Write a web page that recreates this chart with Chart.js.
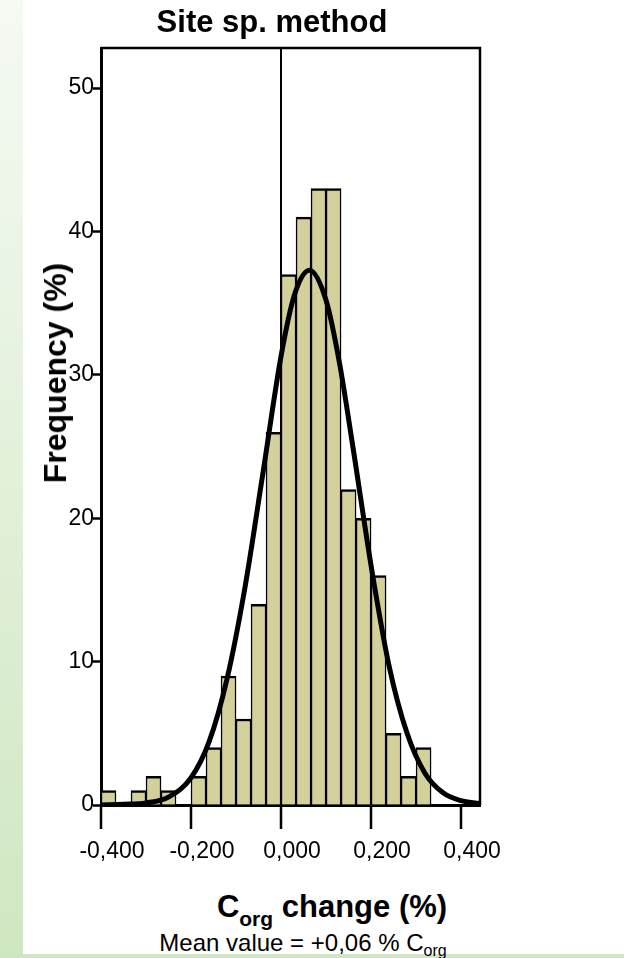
<!DOCTYPE html>
<html>
<head>
<meta charset="utf-8">
<script src="https://cdn.jsdelivr.net/npm/chart.js@4.4.1/dist/chart.umd.min.js"></script>
<style>
  html, body { margin: 0; padding: 0; }
  body {
    width: 624px; height: 958px; position: relative; overflow: hidden;
    background: #ffffff; font-family: "Liberation Sans", Arial, sans-serif; color: #000;
  }
  .strip-left {
    position: absolute; left: 0; top: 0; width: 23px; height: 958px;
    background: linear-gradient(to bottom, #f5faf3, #cfe7c1);
  }
  .strip-bottom {
    position: absolute; left: 0; top: 954px; width: 624px; height: 4px; background: #cfe7c1;
  }
  #wrap { position: absolute; left: 0; top: 0; width: 624px; height: 880px; }
  .txt { position: absolute; white-space: nowrap; line-height: 1; }
  #title { font-weight: bold; font-size: 31px; left: 272px; top: 6px; transform: translateX(-50%); }
  #ytitle { font-weight: bold; font-size: 32px; left: 55px; top: 373px; transform: translate(-50%, -50%) rotate(-90deg); }
  #xtitle { font-weight: bold; font-size: 31px; left: 332px; top: 891px; transform: translateX(-50%); }
  #xtitle sub { font-size: 21px; vertical-align: -9px; }
  #mean { font-size: 24px; left: 303px; top: 931px; transform: translateX(-50%); }
  #mean sub { font-size: 16px; vertical-align: -5px; }
</style>
</head>
<body>
<div class="strip-left"></div>
<div class="strip-bottom"></div>
<div id="wrap"><canvas id="histChart"></canvas></div>
<div class="txt" id="title">Site sp. method</div>
<div class="txt" id="ytitle">Frequency (%)</div>
<div class="txt" id="xtitle">C<sub>org</sub> change (%)</div>
<div class="txt" id="mean">Mean value = +0,06 % C<sub>org</sub></div>

<script>
// ---------------------------------------------------------
// Data
// ---------------------------------------------------------
const binStart = -0.4;
const binWidth = 0.4 / 12;
const binCounts = [1, 0, 1, 2, 1, 0, 2, 4, 9, 6, 14, 26, 37, 41, 43, 43, 22, 20, 16, 5, 2, 4];

// fitted normal curve
const curveX = [-0.40, -0.35, -0.30, -0.25, -0.20, -0.16, -0.12, -0.08, -0.04, 0.00, 0.03, 0.063,
                0.10, 0.13, 0.16, 0.20, 0.24, 0.28, 0.32, 0.36, 0.40, 0.44];
const curveY = [0.0, 0.05, 0.15, 0.55, 1.9, 4.4, 8.8, 15.2, 23.2, 31.3, 35.6, 37.3,
                35.2, 30.8, 24.9, 16.7, 9.7, 5.0, 2.2, 0.85, 0.3, 0.1];

const xTicks = [-0.4, -0.2, 0, 0.2, 0.4];
const yTicks = [0, 10, 20, 30, 40, 50];

const barData = binCounts.map((c, i) => ({ x: binStart + (i + 0.5) * binWidth, y: c }));
const curveData = curveX.map((x, i) => ({ x: x, y: curveY[i] }));

// frame on top and right of the plot area
const boxPlugin = {
  id: 'box',
  afterDraw(chart) {
    const a = chart.chartArea;
    const ctx = chart.ctx;
    ctx.save();
    ctx.strokeStyle = '#000';
    ctx.lineWidth = 2.5;
    ctx.beginPath();
    ctx.moveTo(a.left, a.top);
    ctx.lineTo(a.right, a.top);
    ctx.lineTo(a.right, a.bottom);
    ctx.stroke();
    ctx.restore();
  }
};

const tickFont = { family: '"Liberation Sans", Arial, sans-serif', size: 23 };

new Chart(document.getElementById('histChart'), {
  type: 'bar',
  data: {
    datasets: [
      {
        type: 'line',
        data: curveData,
        borderColor: '#000',
        borderWidth: 5,
        pointRadius: 0,
        fill: false,
        cubicInterpolationMode: 'monotone',
        order: 0
      },
      {
        type: 'bar',
        data: barData,
        backgroundColor: '#d4d09b',
        borderColor: '#000',
        borderWidth: { top: 2.5, left: 1.5, right: 1.5, bottom: 0 },
        borderSkipped: false,
        barPercentage: 1,
        categoryPercentage: 1,
        order: 1
      }
    ]
  },
  options: {
    responsive: true,
    maintainAspectRatio: false,
    animation: false,
    layout: { padding: { left: 0, right: 144, top: 48, bottom: 0 } },
    plugins: { legend: { display: false }, tooltip: { enabled: false } },
    scales: {
      x: {
        type: 'linear',
        min: -0.4,
        max: 0.442,
        offset: false,
        afterFit: (s) => { s.height = 75; },
        afterBuildTicks: (s) => { s.ticks = xTicks.map(v => ({ value: v })); },
        border: { display: true, color: '#000', width: 3 },
        grid: {
          offset: false,
          drawOnChartArea: true,
          color: (c) => (c.tick && Math.abs(c.tick.value) < 1e-9 ? '#000' : 'rgba(0,0,0,0)'),
          lineWidth: 2,
          tickColor: '#000',
          tickWidth: 2.5,
          tickLength: 24
        },
        ticks: {
          color: '#000',
          font: tickFont,
          padding: 9,
          labelOffset: 11,
          maxRotation: 0,
          callback: (v) => (Math.abs(v) < 1e-9 ? 0 : v).toFixed(3).replace('.', ',')
        }
      },
      y: {
        min: 0,
        max: 52.8,
        afterFit: (s) => { s.width = 101; },
        afterBuildTicks: (s) => { s.ticks = yTicks.map(v => ({ value: v })); },
        border: { display: true, color: '#000', width: 3 },
        grid: {
          drawOnChartArea: false,
          tickColor: '#000',
          tickWidth: 2.5,
          tickLength: 8
        },
        ticks: {
          color: '#000',
          font: tickFont,
          padding: -1
        }
      }
    }
  },
  plugins: [boxPlugin]
});
</script>
</body>
</html>
